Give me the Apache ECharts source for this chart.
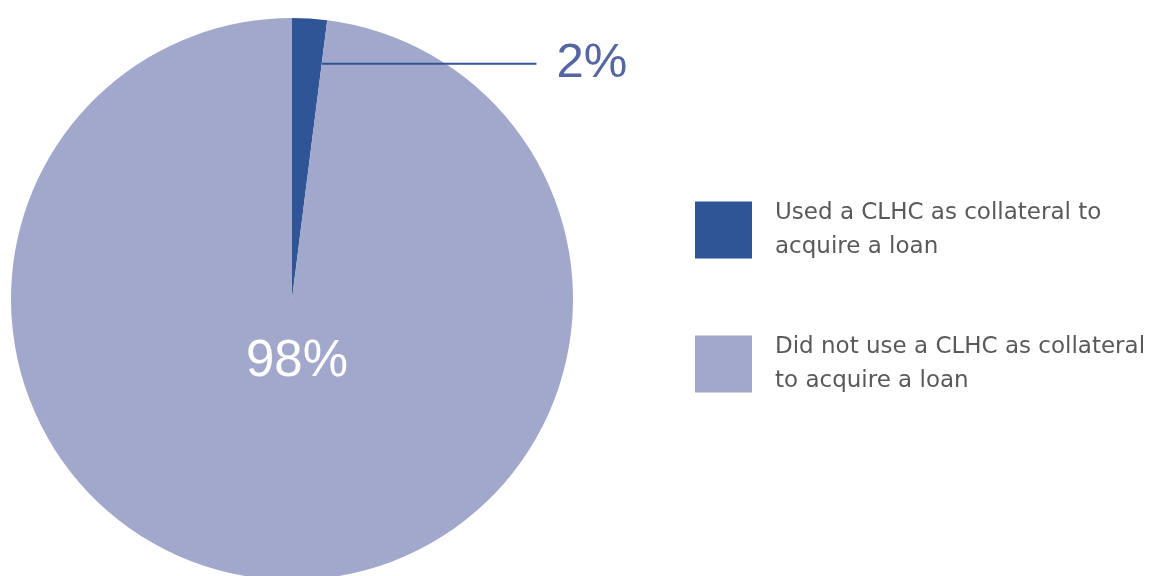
<!DOCTYPE html>
<html>
<head>
<meta charset="utf-8">
<script src="https://cdn.jsdelivr.net/npm/echarts@6/dist/echarts.min.js"></script>
<style>
html,body{margin:0;padding:0;background:#fff;}
#chart{width:1158px;height:576px;}
</style>
</head>
<body>
<div id="chart"></div>
<script>
// ---- data ----
var categories = ["Used a CLHC as collateral to\nacquire a loan", "Did not use a CLHC as collateral\nto acquire a loan"];
var values = [2, 98];
var colors = ["#2F5597", "#A2A8CB"];

// ---- layout ----
var CX = 292, CY = 299, R = 281;
var LABEL_FONT = "'Liberation Sans', Arial, sans-serif";

var chart = echarts.init(document.getElementById('chart'));
var total = values.reduce(function(a,b){return a+b;},0);
function pct(p){ return Math.round(p.value / total * 100) + '%'; }

var option = {
  animation: false,
  legend: {
    orient: 'vertical',
    left: 695,
    top: 196,
    padding: 0,
    itemWidth: 57,
    itemHeight: 57,
    itemGap: 66,
    icon: 'rect',
    textStyle: {
      fontFamily: 'DejaVu Sans',
      fontSize: 23,
      color: '#595959',
      lineHeight: 34,
      padding: [0, 0, 0, 18]
    },
    data: categories
  },
  series: [{
    // the pie itself
    type: 'pie',
    z: 2,
    center: [CX, CY],
    radius: R,
    startAngle: 90,
    clockwise: true,
    label: { show: false },
    labelLine: { show: false },
    itemStyle: { borderWidth: 0 },
    emphasis: { disabled: true },
    data: categories.map(function(c, i){
      return { name: c, value: values[i], itemStyle: { color: colors[i] } };
    })
  }, {
    // transparent overlay carrying the labels so the guide line sits above the slices
    type: 'pie',
    z: 5,
    silent: true,
    center: [CX, CY],
    radius: R,
    startAngle: 90,
    clockwise: true,
    avoidLabelOverlap: false,
    label: { fontFamily: LABEL_FONT, formatter: pct },
    itemStyle: { color: 'rgba(0,0,0,0)', borderWidth: 0 },
    emphasis: { disabled: true },
    data: categories.map(function(c, i){
      var item = { name: c, value: values[i] };
      if (i === 0) {
        item.label = { show: true, position: 'outside', color: '#5566A2', fontSize: 49, fontFamily: LABEL_FONT, formatter: pct };
        item.labelLine = { show: true, lineStyle: { color: '#2F5597', width: 2 } };
      } else {
        item.label = { show: true, position: 'center', color: '#ffffff', fontSize: 51, fontFamily: LABEL_FONT, formatter: pct };
        item.labelLine = { show: false };
      }
      return item;
    }),
    labelLayout: function(params){
      if (params.dataIndex === 0) {
        var lineY = CY - 0.837 * R;
        var angle = values[0] / total * 2 * Math.PI;
        var startX = CX + (CY - lineY) * Math.tan(angle);
        var endX = CX + 0.87 * R;
        return {
          x: endX + 20,
          y: lineY,
          align: 'left',
          verticalAlign: 'middle',
          labelLinePoints: [[startX, lineY], [endX, lineY], [endX, lineY]]
        };
      }
      return { dx: 5, dy: 63 };
    }
  }]
};
chart.setOption(option);
</script>
</body>
</html>
